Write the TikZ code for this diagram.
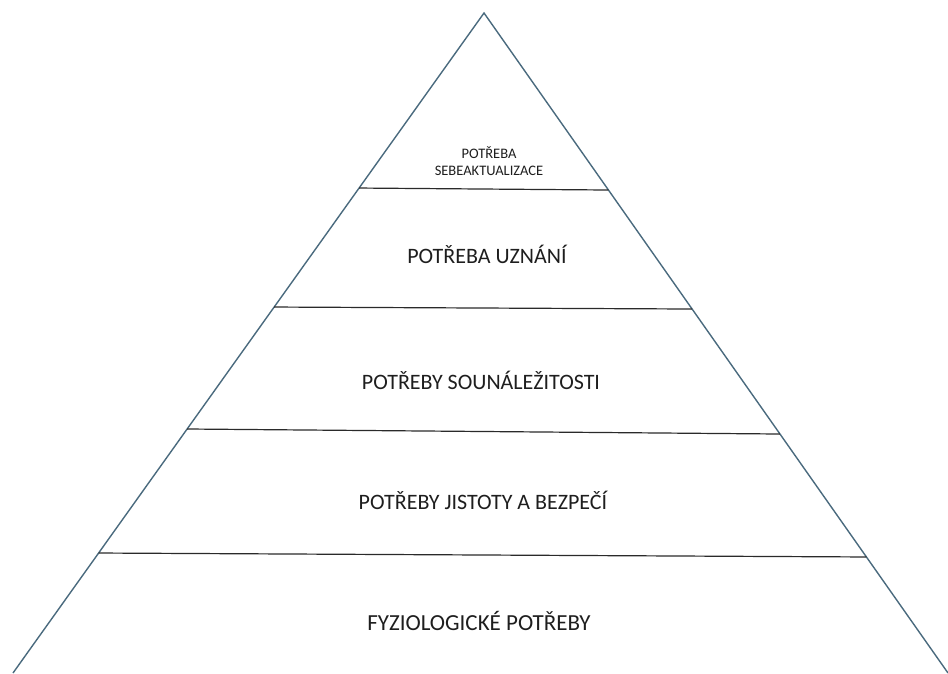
\documentclass[tikz,border=0pt]{standalone}
\usepackage{fontspec}
\setmainfont{Carlito}
\usetikzlibrary{calc}
\definecolor{edgecol}{HTML}{4A6A7E}
\definecolor{sepcol}{HTML}{2A2A2A}
\definecolor{txtcol}{HTML}{1E1E1E}
\tikzset{
  edge/.style={draw=edgecol, line width=1.4pt},
  sep/.style={draw=sepcol, line width=1.2pt},
  lbl/.style={text=txtcol, font=\fontsize{22}{24}\selectfont, inner sep=0pt},
  smalllbl/.style={text=txtcol, font=\fontsize{14.5}{17}\selectfont, align=center, inner sep=0pt}
}
\begin{document}
\begin{tikzpicture}[x=1pt,y=-1pt]
\useasboundingbox (0,0) rectangle (948,673);
\begin{scope}
\clip (0,0) rectangle (948,673);
\coordinate (apex) at (484,13);
\coordinate (bl) at (13,673);
\coordinate (br) at (948,673);
\draw[edge] (bl) -- (apex) -- (br);
\coordinate (l1) at ($(apex)!0.2652!(bl)$);
\coordinate (r1) at ($(apex)!0.2682!(br)$);
\coordinate (l2) at ($(apex)!0.4455!(bl)$);
\coordinate (r2) at ($(apex)!0.4485!(br)$);
\coordinate (l3) at ($(apex)!0.6303!(bl)$);
\coordinate (r3) at ($(apex)!0.6379!(br)$);
\coordinate (l4) at ($(apex)!0.8182!(bl)$);
\coordinate (r4) at ($(apex)!0.8242!(br)$);
\draw[sep] (l1) -- (r1);
\draw[sep] (l2) -- (r2);
\draw[sep] (l3) -- (r3);
\draw[sep] (l4) -- (r4);
\end{scope}
\node[smalllbl] (t1) at (489,161) {POTŘEBA\\SEBEAKTUALIZACE};
\node[lbl] (t2) at (487,254) {POTŘEBA UZNÁNÍ};
\node[lbl] (t3) at (481,380) {POTŘEBY SOUNÁLEŽITOSTI};
\node[lbl] (t4) at (483,500) {POTŘEBY JISTOTY A BEZPEČÍ};
\node[lbl, font=\fontsize{23}{25}\selectfont] (t5) at (479,621) {FYZIOLOGICKÉ POTŘEBY};
\end{tikzpicture}
\end{document}
